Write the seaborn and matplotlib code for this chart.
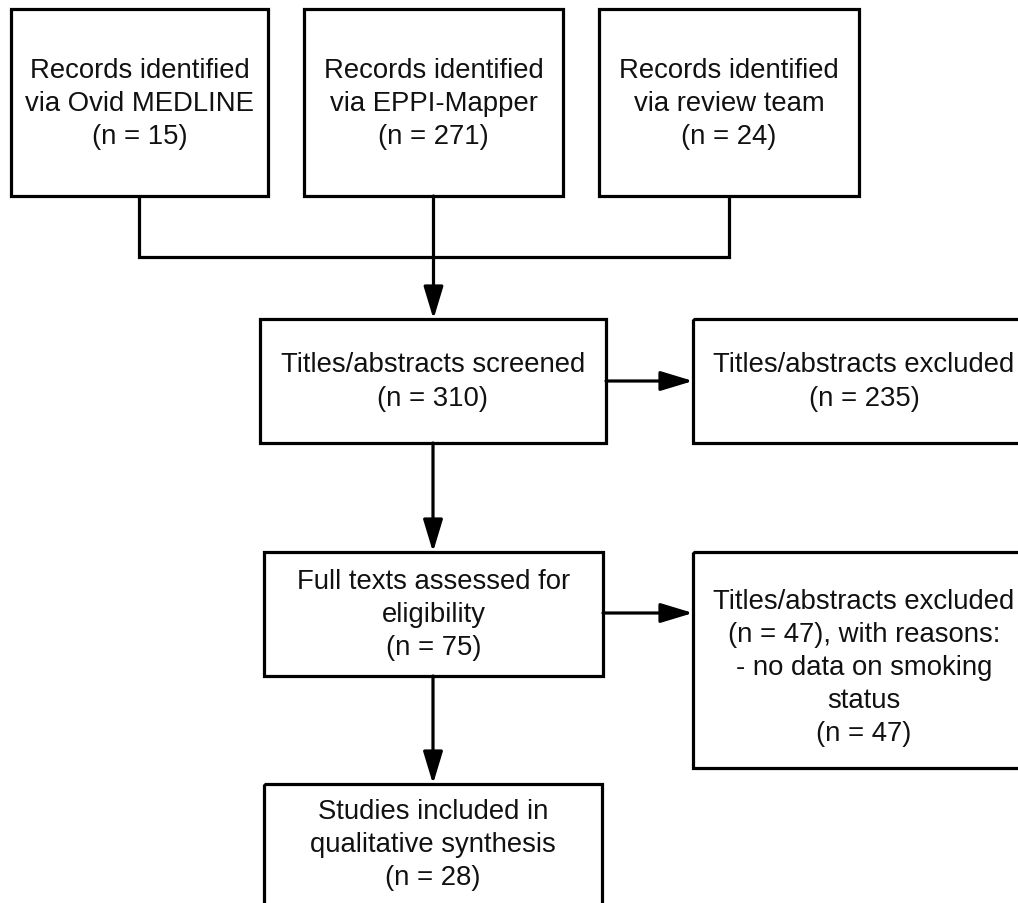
import matplotlib
matplotlib.use("Agg")
import matplotlib.pyplot as plt
import matplotlib.patches as mpatches
import seaborn as sns

# Box texts (PRISMA flow)
source_labels = ["Records identified\nvia Ovid MEDLINE", "Records identified\nvia EPPI-Mapper",
                 "Records identified\nvia review team"]
source_counts = [15, 271, 24]
screened_label = "Titles/abstracts screened"
screened_count = 310
excluded_label = "Titles/abstracts excluded"
excluded_count = 235
fulltext_label = "Full texts assessed for\neligibility"
fulltext_count = 75
fulltext_excl_label = "Titles/abstracts excluded\n(n = 47), with reasons:\n- no data on smoking\nstatus"
fulltext_excl_count = 47
included_label = "Studies included in\nqualitative synthesis"
included_count = 28

# Layout in pixel coords (x0, y0, x1, y1), y downwards
W, H = 1018, 904
src_boxes = [(11, 10, 268, 197), (304, 10, 563, 197), (599, 10, 859, 197)]
screen_box = (260, 320, 606, 444)
excl_box = (693, 320, 1035, 444)
full_box = (264, 553, 603, 677)
full_excl_box = (693, 553, 1035, 769)
incl_box = (264, 785, 602, 960)
incl_text_y = 845
merge_y = 258
LW = 2.3

sns.set_theme(style="white")
plt.rcParams['font.family'] = ['Liberation Sans', 'DejaVu Sans']

fig = plt.figure(figsize=(W / 100, H / 100), dpi=100)
ax = fig.add_axes([0, 0, 1, 1])
ax.set_xlim(0, W)
ax.set_ylim(H, 0)
ax.axis("off")


def box(b, text, ty=None):
    x0, y0, x1, y1 = b
    ax.add_patch(mpatches.Rectangle((x0, y0), x1 - x0, y1 - y0, fill=False,
                                    edgecolor="black", linewidth=LW))
    if ty is None:
        ty = (y0 + y1) / 2
    ax.text((x0 + x1) / 2, ty, text, ha="center", va="center",
            fontsize=19.8, color="#111111", linespacing=1.36)


def arrow(x0, y0, x1, y1):
    ax.annotate("", xy=(x1, y1), xytext=(x0, y0),
                arrowprops=dict(arrowstyle="-|>,head_length=1.65,head_width=0.5",
                                color="black", lw=LW, shrinkA=0, shrinkB=0))


def cx(b):
    return (b[0] + b[2]) / 2


for b, lab, n in zip(src_boxes, source_labels, source_counts):
    box(b, f"{lab}\n(n = {n})", ty=104)
box(screen_box, f"{screened_label}\n(n = {screened_count})")
box(excl_box, f"{excluded_label}\n(n = {excluded_count})")
box(full_box, f"{fulltext_label}\n(n = {fulltext_count})")
box(full_excl_box, f"{fulltext_excl_label}\n(n = {fulltext_excl_count})", ty=668)
box(incl_box, f"{included_label}\n(n = {included_count})", ty=incl_text_y)

# merge connector from the three sources
ax.plot([cx(src_boxes[0]), cx(src_boxes[0]), cx(src_boxes[2]), cx(src_boxes[2])],
        [src_boxes[0][3], merge_y, merge_y, src_boxes[2][3]],
        color="black", lw=LW, solid_joinstyle="miter")
arrow(cx(src_boxes[1]), src_boxes[1][3], cx(src_boxes[1]), screen_box[1])

arrow(screen_box[2], 382, excl_box[0], 382)
arrow(433, screen_box[3], 433, full_box[1])
arrow(full_box[2], 614, full_excl_box[0], 614)
arrow(433, full_box[3], 433, incl_box[1])

fig.savefig("out.png", dpi=100, facecolor="white")
